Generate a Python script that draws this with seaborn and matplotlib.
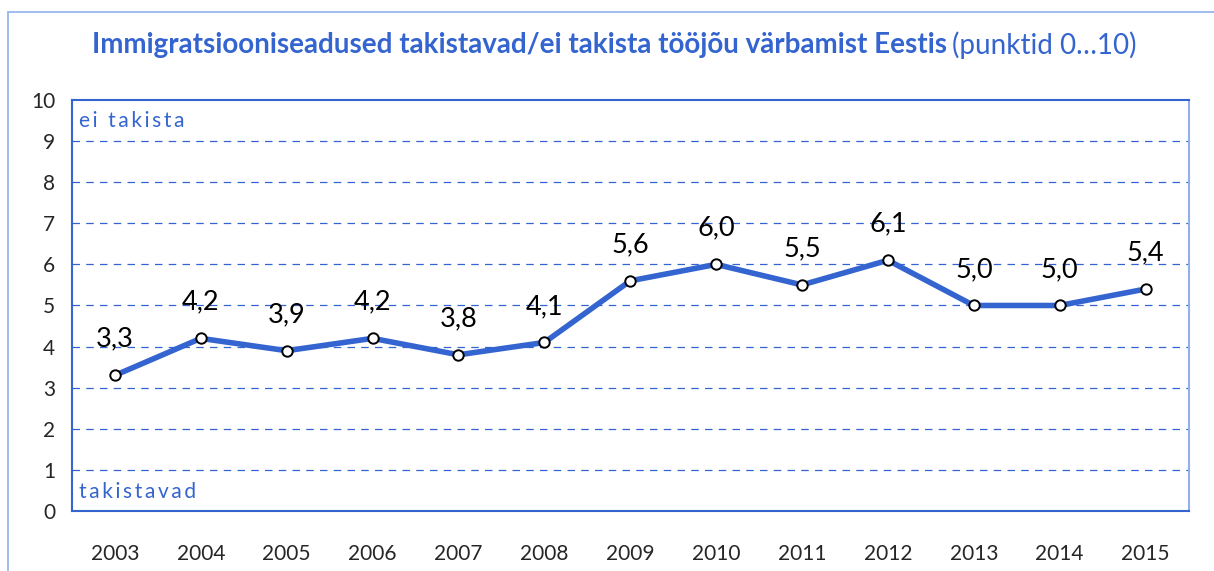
import seaborn as sns
import matplotlib.pyplot as plt
import matplotlib.patches as patches
import pandas as pd

# data
years = [2003, 2004, 2005, 2006, 2007, 2008, 2009, 2010, 2011, 2012, 2013, 2014, 2015]
scores = [3.3, 4.2, 3.9, 4.2, 3.8, 4.1, 5.6, 6.0, 5.5, 6.1, 5.0, 5.0, 5.4]
df = pd.DataFrame({'aasta': years, 'punkt': scores})

blue = '#3464CF'
light_blue = '#8FB0EA'

sns.set_style('white')
plt.rcParams['font.family'] = ['Lato', 'DejaVu Sans']

fig = plt.figure(figsize=(12.14, 5.71), dpi=100)
ax = fig.add_axes([0.0593, 0.1051, 0.9197, 0.7198])

# outer chart frame
fig.patches.append(patches.Rectangle((8 / 1214, -0.05), 1.2, 0.05 + 1 - 12 / 571,
                                     transform=fig.transFigure, fill=False,
                                     edgecolor=light_blue, linewidth=1.2))

# dashed grid
for v in range(1, 10):
    ax.axhline(v, color=blue, linestyle=(0, (6, 5)), linewidth=0.9, zorder=0)

sns.lineplot(data=df, x='aasta', y='punkt', ax=ax, color=blue, linewidth=4,
             marker='o', markersize=7.5, markerfacecolor='white',
             markeredgecolor='black', markeredgewidth=1.4, zorder=3)

# value labels
for x, y in zip(years, scores):
    ax.annotate(f'{y:.1f}'.replace('.', ','), (x, y), xytext=(0, 26),
                textcoords='offset points', ha='center', va='center',
                fontsize=19.5, color='black')

ax.set_xlim(2002.5, 2015.5)
ax.set_ylim(0, 10)
ax.set_yticks(range(0, 11))
ax.set_xticks(years)
ax.set_xticklabels([str(y) for y in years])
ax.set_xticks([y + 0.5 for y in [2002] + years], minor=True)
ax.tick_params(axis='x', which='major', length=0, pad=24, labelsize=15)
ax.tick_params(axis='x', which='minor', length=8, color=light_blue, width=1.5,
               direction='out')
ax.tick_params(axis='y', length=8, color=blue, width=1.2, direction='out',
               labelsize=15, pad=4)
ax.set_xlabel('')
ax.set_ylabel('')

for side in ['left', 'bottom', 'top']:
    ax.spines[side].set_color(blue)
    ax.spines[side].set_linewidth(1.5)
ax.spines['right'].set_color(light_blue)
ax.spines['right'].set_linewidth(1.5)

ax.text(0.006, 0.95, '\u2009'.join('ei takista'), transform=ax.transAxes, color=blue,
        fontsize=15, ha='left', va='center')
ax.text(0.006, 0.045, '\u2009'.join('takistavad'), transform=ax.transAxes, color=blue,
        fontsize=15, ha='left', va='center')

# title: bold part + normal part
t1 = fig.text(92 / 1214, 1 - 45 / 571, 'Immigratsiooniseadused takistavad/ei takista tööjõu värbamist Eestis',
              color=blue, fontsize=20, fontweight='bold', ha='left', va='center')
fig.canvas.draw()
bb = t1.get_window_extent()
fig.text(bb.x1 / 1214 + 0.004, 1 - 45 / 571, '(punktid 0…10)', color=blue,
         fontsize=20, ha='left', va='center')

fig.savefig('out.png', dpi=100)
